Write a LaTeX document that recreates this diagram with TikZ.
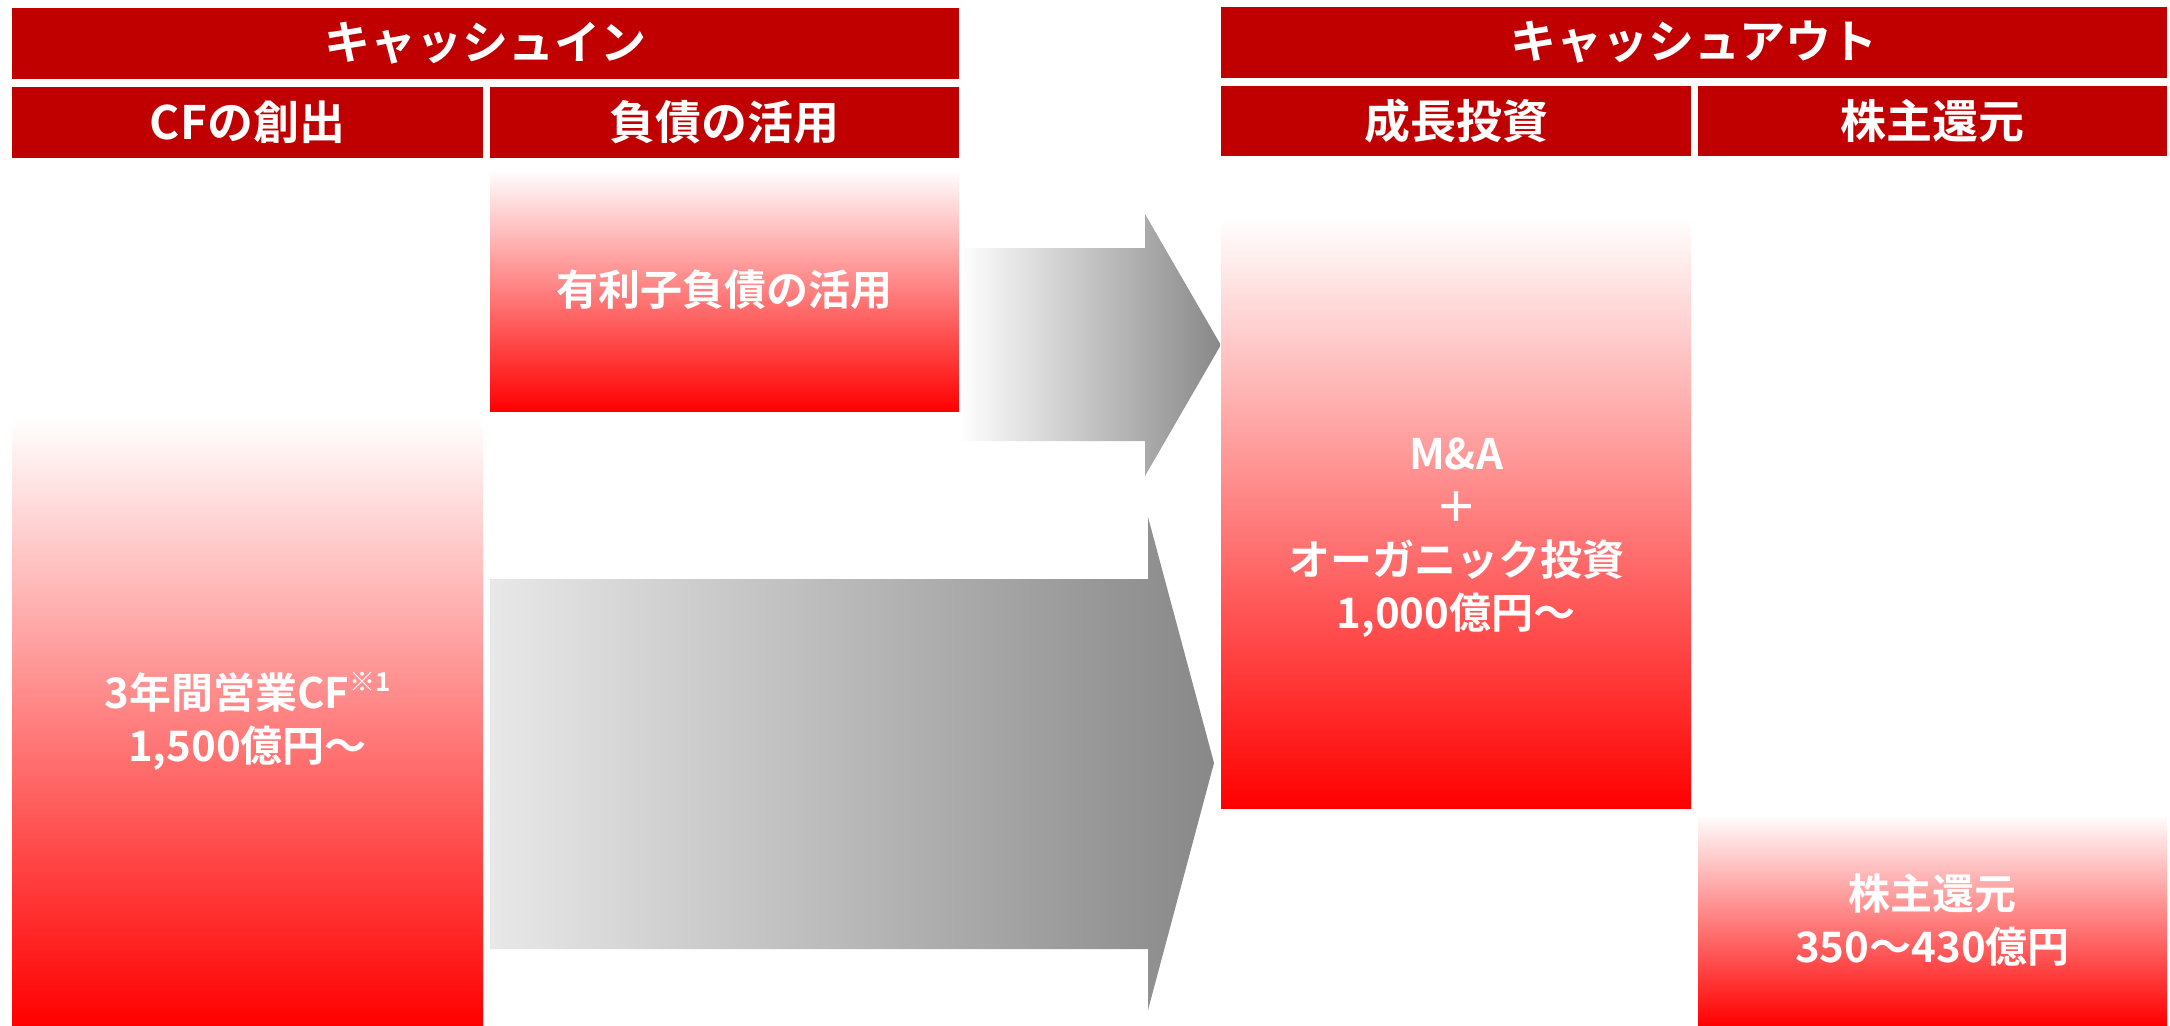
\documentclass[tikz,border=0pt]{standalone}
\usepackage{fontspec}
\newfontfamily\jp{Noto Sans CJK JP}[BoldFont={Noto Sans CJK JP Bold}]
\usetikzlibrary{calc}
\definecolor{hdrred}{RGB}{192,0,0}
\definecolor{arrgray}{RGB}{136,136,136}
\definecolor{arrlight}{RGB}{232,232,232}
\begin{document}
\begin{tikzpicture}[x=1pt,y=-1pt,
  hdr/.style={fill=hdrred, text=white, inner sep=0pt, anchor=center,
    font=\jp\bfseries\fontsize{46}{50}\selectfont},
  gbox/.style={top color=white, bottom color=red, text=white, align=center,
    inner sep=0pt, anchor=center, font=\jp\bfseries\fontsize{42}{53}\selectfont},
  gtext/.style={text=white, align=center, inner sep=0pt,
    font=\jp\bfseries\fontsize{42}{53}\selectfont},
  arrowshape/.style={draw=none}]
\useasboundingbox (0,0) rectangle (2170,1025);
\fill[white] (0,0) rectangle (2170,1025);

% headers
\node[hdr, minimum width=947pt, minimum height=71pt] (hIn) at (485.5,43.5) {キャッシュイン};
\node[hdr, minimum width=471pt, minimum height=71pt] (hCF) at (247.5,122.5) {CFの創出};
\node[hdr, minimum width=469pt, minimum height=71pt] (hDebt) at (724.5,122.5) {負債の活用};
\node[hdr, minimum width=946pt, minimum height=71pt] (hOut) at (1694,42.5) {キャッシュアウト};
\node[hdr, minimum width=470pt, minimum height=70pt] (hGrow) at (1456,121) {成長投資};
\node[hdr, minimum width=469pt, minimum height=70pt] (hRet) at (1932.5,121) {株主還元};

% gradient boxes
\node[gbox, minimum width=469pt, minimum height=242pt] (bDebt) at (724.5,290) {有利子負債の活用};
\node[gbox, minimum width=471pt, minimum height=607pt] (bCF) at (247.5,721.5)
  {3年間営業CF\raisebox{0.42em}{\fontsize{26}{26}\selectfont ※1}\\1,500億円～};
\node[gbox, minimum width=470pt, minimum height=591pt] (bMA) at (1456,512.5) {};
\node[gtext] (tMA) at ($(bMA.center)+(0,25)$) {M\&A\\＋\\オーガニック投資\\1,000億円～};
\node[gbox, minimum width=469pt, minimum height=211pt] (bRet) at (1932.5,919.5) {株主還元\\350～430億円};

% arrows
\shade[arrowshape, left color=white, right color=arrgray]
  (bDebt.east |- 0,248) -- (1145,248) -- (1145,214) -- (bMA.west |- 0,345)
  -- (1145,476) -- (1145,441) -- (bDebt.east |- 0,441) -- cycle;
\shade[arrowshape, left color=arrlight, right color=arrgray]
  (bDebt.west |- 0,579) -- (1148,579) -- (1148,517) -- (1214,763)
  -- (1148,1010) -- (1148,949) -- (bDebt.west |- 0,949) -- cycle;
\end{tikzpicture}
\end{document}
